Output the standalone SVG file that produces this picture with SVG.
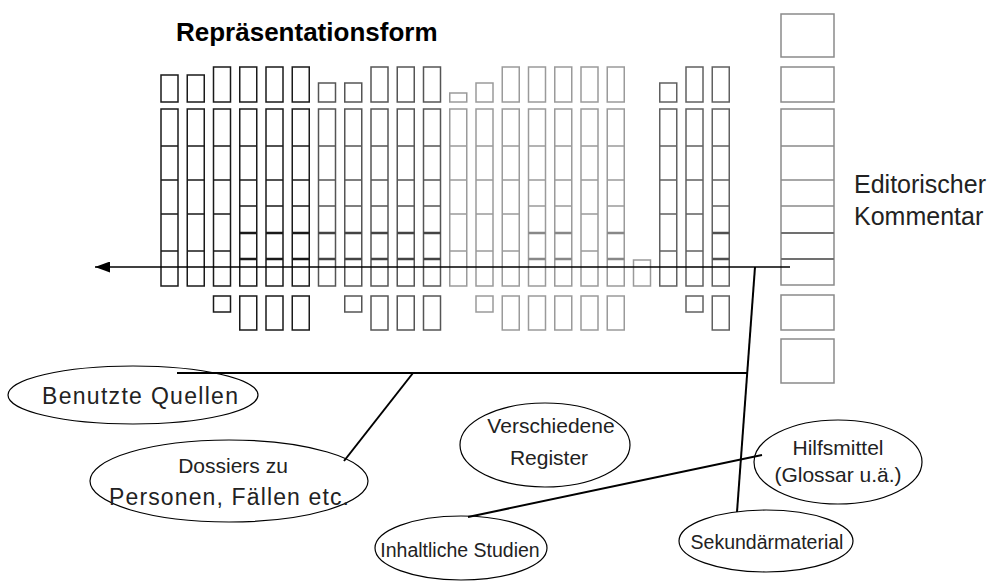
<svg xmlns="http://www.w3.org/2000/svg" width="994" height="583" viewBox="0 0 994 583">
<defs>
<style>
.k{fill:none;stroke:#1a1a1a;stroke-width:1.5}
.d{fill:none;stroke:#555;stroke-width:1.5}
.l{fill:none;stroke:#9a9a9a;stroke-width:1.5}
.m{fill:none;stroke:#606060;stroke-width:1.5}
.r{fill:none;stroke:#8a8a8a;stroke-width:1.5}
.t{stroke-width:2.5}
.c{stroke:#000;stroke-width:2;fill:none}
.e{fill:none;stroke:#000;stroke-width:1.2}
.lbl{font-family:"Liberation Sans",Arial,sans-serif;font-size:21px;fill:#222;text-anchor:middle}
.big{font-size:23px}
.title{font-family:"Liberation Sans",Arial,sans-serif;font-size:26px;font-weight:bold;fill:#000}
.side{font-family:"Liberation Sans",Arial,sans-serif;font-size:25px;fill:#222}
</style>
<marker id="ah" viewBox="0 0 15 11" refX="15" refY="5.5" markerWidth="15" markerHeight="11" markerUnits="userSpaceOnUse" orient="auto">
<path d="M0,0 L15,5.5 L0,11 z" fill="#000"/>
</marker>
</defs>
<rect width="994" height="583" fill="#fff"/>
<text class="title" x="176" y="41">Repräsentationsform</text>

<g id="grid">
<g class="k">
<rect x="161" y="75" width="17" height="27"/><rect x="187.25" y="75" width="17" height="27"/>
<rect x="213.5" y="67" width="17" height="35"/><rect x="239.75" y="67" width="17" height="35"/><rect x="266" y="67" width="17" height="35"/><rect x="292.25" y="67" width="17" height="35"/>
<rect x="161" y="109" width="17" height="177"/><rect x="187.25" y="109" width="17" height="177"/><rect x="213.5" y="109" width="17" height="177"/>
<rect x="239.75" y="109" width="17" height="177"/><rect x="266" y="109" width="17" height="177"/><rect x="292.25" y="109" width="17" height="177"/>
<path d="M161,146h17M161,180h17M161,214h17M161,251h17 M187.25,146h17M187.25,180h17M187.25,214h17M187.25,251h17 M213.5,146h17M213.5,180h17M213.5,214h17M213.5,251h17"/>
<path d="M239.75,146h17M239.75,180h17M239.75,206h17 M266,146h17M266,180h17M266,206h17 M292.25,146h17M292.25,180h17M292.25,206h17"/>
<path class="t" d="M239.75,233h17M239.75,259h17M266,233h17M266,259h17M292.25,233h17M292.25,259h17" stroke="#1a1a1a"/>
<rect x="213.5" y="296" width="17" height="16"/>
<rect x="239.75" y="296" width="17" height="34"/><rect x="266" y="296" width="17" height="34"/><rect x="292.25" y="296" width="17" height="34"/>
</g>
<g class="d">
<rect x="318.5" y="83" width="17" height="19"/><rect x="344.75" y="83" width="17" height="19"/>
<rect x="371" y="67" width="17" height="35"/><rect x="397.25" y="67" width="17" height="35"/><rect x="423.5" y="67" width="17" height="35"/>
<rect x="318.5" y="109" width="17" height="177"/><rect x="344.75" y="109" width="17" height="177"/><rect x="371" y="109" width="17" height="177"/><rect x="397.25" y="109" width="17" height="177"/><rect x="423.5" y="109" width="17" height="177"/>
<path d="M318.5,146h17M318.5,180h17M318.5,206h17 M344.75,146h17M344.75,180h17M344.75,206h17 M371,146h17M371,180h17M371,206h17 M397.25,146h17M397.25,180h17M397.25,206h17 M423.5,146h17M423.5,180h17M423.5,206h17"/>
<path class="t" d="M318.5,233h17M318.5,259h17M344.75,233h17M344.75,259h17M371,233h17M371,259h17M397.25,233h17M397.25,259h17M423.5,233h17M423.5,259h17" stroke="#444"/>
<rect x="344.75" y="296" width="17" height="16"/>
<rect x="371" y="296" width="17" height="34"/><rect x="397.25" y="296" width="17" height="34"/><rect x="423.5" y="296" width="17" height="34"/>
</g>
<g class="l">
<rect x="449.75" y="93" width="17" height="9"/><rect x="476" y="83" width="17" height="19"/>
<rect x="502.25" y="67" width="17" height="35"/><rect x="528.5" y="67" width="17" height="35"/><rect x="554.75" y="67" width="17" height="35"/><rect x="581" y="67" width="17" height="35"/><rect x="607.25" y="67" width="17" height="35"/>
<rect x="449.75" y="109" width="17" height="177"/><rect x="476" y="109" width="17" height="177"/><rect x="502.25" y="109" width="17" height="177"/><rect x="528.5" y="109" width="17" height="177"/><rect x="554.75" y="109" width="17" height="177"/><rect x="581" y="109" width="17" height="177"/><rect x="607.25" y="109" width="17" height="177"/>
<path d="M449.75,146h17M449.75,180h17M449.75,214h17M449.75,251h17 M476,146h17M476,180h17M476,214h17M476,251h17 M502.25,146h17M502.25,180h17M502.25,214h17M502.25,251h17 M581,146h17M581,180h17M581,214h17M581,251h17"/>
<path d="M528.5,146h17M528.5,180h17M528.5,206h17 M554.75,146h17M554.75,180h17M554.75,206h17 M607.25,146h17M607.25,180h17M607.25,206h17"/>
<path class="t" d="M528.5,233h17M528.5,259h17M554.75,233h17M554.75,259h17M607.25,233h17M607.25,259h17" stroke="#888"/>
<rect x="633.5" y="260" width="17" height="26"/>
<rect x="476" y="296" width="17" height="16"/>
<rect x="502.25" y="296" width="17" height="34"/><rect x="528.5" y="296" width="17" height="34"/><rect x="554.75" y="296" width="17" height="34"/><rect x="581" y="296" width="17" height="34"/><rect x="607.25" y="296" width="17" height="34"/>
</g>
<g class="m">
<rect x="659.75" y="83" width="17" height="19"/>
<rect x="686" y="67" width="17" height="35"/><rect x="712.25" y="67" width="17" height="35"/>
<rect x="659.75" y="109" width="17" height="177"/><rect x="686" y="109" width="17" height="177"/><rect x="712.25" y="109" width="17" height="177"/>
<path d="M659.75,146h17M659.75,180h17M659.75,214h17M659.75,251h17 M686,146h17M686,180h17M686,214h17M686,251h17 M712.25,146h17M712.25,180h17M712.25,206h17"/>
<path class="t" d="M712.25,233h17M712.25,259h17" stroke="#505050"/>
<rect x="686" y="296" width="17" height="16"/>
<rect x="712.25" y="296" width="17" height="34"/>
</g>
</g>

<g id="editorischer-kommentar">
<g class="r">
<rect x="781" y="14" width="53" height="43"/>
<rect x="781" y="67" width="53" height="35"/>
<rect x="781" y="109" width="53" height="176"/>
<path d="M781,146h53M781,180h53M781,206h53"/>
<path d="M781,233h53M781,259h53" stroke="#707070" stroke-width="2"/>
<rect x="781" y="295" width="53" height="35"/>
<rect x="781" y="339" width="53" height="44"/>
</g>
<text class="side" x="854" y="193">Editorischer</text>
<text class="side" x="854" y="225">Kommentar</text>
</g>

<g id="connectors">
<line x1="790" y1="267" x2="95" y2="267" stroke="#000" stroke-width="1.5" marker-end="url(#ah)"/>
<line class="c" x1="755" y1="267" x2="737" y2="512"/>
<line class="c" x1="177" y1="373" x2="748" y2="373"/>
<line class="c" x1="413" y1="373" x2="344" y2="461"/>
<line class="c" x1="468" y1="517" x2="762" y2="455"/>
</g>

<g id="benutzte-quellen">
<ellipse class="e" cx="133" cy="395" rx="125" ry="29"/>
<text class="lbl big" x="140" y="404" textLength="196" lengthAdjust="spacing">Benutzte Quellen</text>
</g>
<g id="dossiers">
<ellipse class="e" cx="229" cy="481" rx="139" ry="41"/>
<text class="lbl" x="233" y="473">Dossiers zu</text>
<text class="lbl big" x="229" y="505" textLength="240" lengthAdjust="spacing">Personen, Fällen etc.</text>
</g>
<g id="verschiedene-register">
<ellipse class="e" cx="545" cy="445" rx="85" ry="42"/>
<text class="lbl" x="551" y="433">Verschiedene</text>
<text class="lbl" x="549" y="465">Register</text>
</g>
<g id="hilfsmittel">
<ellipse class="e" cx="838" cy="462" rx="84" ry="42"/>
<text class="lbl" x="838" y="455">Hilfsmittel</text>
<text class="lbl" x="838" y="482">(Glossar u.ä.)</text>
</g>
<g id="inhaltliche-studien">
<ellipse class="e" cx="461" cy="548" rx="86" ry="32"/>
<text class="lbl" x="460" y="557" style="font-size:19.5px">Inhaltliche Studien</text>
</g>
<g id="sekundaermaterial">
<ellipse class="e" cx="766" cy="541" rx="87" ry="31"/>
<text class="lbl" x="767" y="549" style="font-size:19.5px">Sekundärmaterial</text>
</g>
</svg>
